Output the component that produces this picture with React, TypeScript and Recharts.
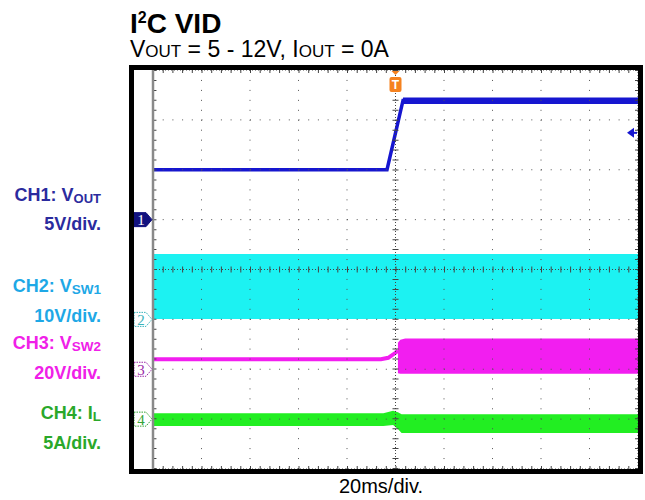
import React from 'react';
import { ComposedChart, Line, Area, XAxis, YAxis, ReferenceLine, ReferenceDot } from 'recharts';

// ---- axes (time in ms, vertical in divisions) ----
const timeDivs = [-100, -80, -60, -40, -20, 0, 20, 40, 60, 80, 100];
const vertDivs = [-4, -3, -2, -1, 0, 1, 2, 3, 4];

// ---- channel setup: offset (div) and scale (units/div) ----
const ch1Offset = 1;
const ch1Scale = 5;
const ch2Offset = -1;
const ch2Scale = 10;
const ch3Offset = -2;
const ch3Scale = 20;
const ch4Offset = -3;
const ch4Scale = 5;

// ---- CH1: VOUT (V) ----
const ch1Time = [-100, -3.5, 3.1, 100];
const ch1Volts = [5.0, 5.0, 11.95, 11.95];
const ch1NoiseTime = [3.1, 100];
const ch1NoiseLo = [11.6, 11.6];
const ch1NoiseHi = [12.25, 12.25];
const ch1TriggerLevel = 8.7;

// ---- CH2: VSW1 (V) switching band ----
const ch2Time = [-100, 100];
const ch2Lo = [0.1, 0.1];
const ch2Hi = [13.1, 13.1];

// ---- CH3: VSW2 (V) ----
const ch3LineTime = [-100, -6, -3, 0, 1];
const ch3LineVolts = [4.0, 4.0, 4.6, 6.6, 7.5];
const ch3BandTime = [1, 2, 4, 100];
const ch3BandLo = [-1.6, -1.8, -1.8, -1.8];
const ch3BandHi = [10.6, 11.8, 12.3, 12.3];

// ---- CH4: IL (A) ----
const ch4Time = [-100, -5, -1, 1, 2.5, 100];
const ch4Lo = [-0.7, -0.7, -0.6, -1.0, -1.4, -1.4];
const ch4Hi = [0.6, 0.6, 0.85, 0.7, 0.5, 0.5];

const toDiv = (v: number, off: number, sc: number) => off + v / sc;

const ch1Data = ch1Time.map((t, i) => ({ t, y: toDiv(ch1Volts[i], ch1Offset, ch1Scale) }));
const ch1Noise = ch1NoiseTime.map((t, i) => ({
  t,
  r: [toDiv(ch1NoiseLo[i], ch1Offset, ch1Scale), toDiv(ch1NoiseHi[i], ch1Offset, ch1Scale)],
}));
const ch2Data = ch2Time.map((t, i) => ({
  t,
  r: [toDiv(ch2Lo[i], ch2Offset, ch2Scale), toDiv(ch2Hi[i], ch2Offset, ch2Scale)],
}));
const ch3Line = ch3LineTime.map((t, i) => ({ t, y: toDiv(ch3LineVolts[i], ch3Offset, ch3Scale) }));
const ch3Band = ch3BandTime.map((t, i) => ({
  t,
  r: [toDiv(ch3BandLo[i], ch3Offset, ch3Scale), toDiv(ch3BandHi[i], ch3Offset, ch3Scale)],
}));
const ch4Data = ch4Time.map((t, i) => ({
  t,
  r: [toDiv(ch4Lo[i], ch4Offset, ch4Scale), toDiv(ch4Hi[i], ch4Offset, ch4Scale)],
}));

const C1 = '#1616D0';
const C2 = '#1CF2F2';
const C3 = '#F21EF0';
const C4 = '#22EE22';

const FONT = '"Liberation Sans", Arial, sans-serif';

const makeMarker = (label: string, color: string, filled: boolean) => (props: any) => {
  const { cx, cy } = props;
  const tip = cx - 1;
  const pts = `${tip - 18},${cy - 7} ${tip - 6},${cy - 7} ${tip},${cy} ${tip - 6},${cy + 7} ${tip - 18},${cy + 7}`;
  return (
    <g>
      <polygon
        points={pts}
        fill={filled ? '#12127E' : '#ffffff'}
        stroke={filled ? '#12127E' : color}
        strokeWidth={1}
        strokeDasharray={filled ? undefined : '1.5 1'}
      />
      <text
        x={tip - 11}
        y={cy + 5.5}
        textAnchor="middle"
        fontFamily={'"Liberation Serif", serif'}
        fontSize={15}
        fill={filled ? '#ffffff' : color}
      >
        {label}
      </text>
    </g>
  );
};

const TriggerMarker = (props: any) => {
  const { cx, cy } = props;
  return (
    <g>
      <polygon points={`${cx - 4},${cy + 1} ${cx + 4},${cy + 1} ${cx},${cy + 5}`} fill="#F5821F" />
      <rect x={cx - 6} y={cy + 7} width={12} height={15} rx={2} fill="#F5821F" />
      <text x={cx} y={cy + 19} textAnchor="middle" fontFamily={FONT} fontWeight="bold" fontSize={12} fill="#ffffff">
        T
      </text>
    </g>
  );
};

const LevelArrow = (props: any) => {
  const { cx, cy } = props;
  return (
    <g>
      <polygon points={`${cx - 11},${cy} ${cx - 4},${cy - 5} ${cx - 4},${cy + 5}`} fill={C1} />
      <line x1={cx - 5} y1={cy} x2={cx - 1} y2={cy} stroke={C1} strokeWidth={2} />
    </g>
  );
};

export default function App() {
  const innerX = timeDivs.filter((t) => t !== 0 && Math.abs(t) !== 100);
  const innerY = vertDivs.filter((v) => v !== 0 && Math.abs(v) !== 4);
  return (
    <div style={{ position: 'absolute', left: 0, top: 0, width: 645, height: 500, background: '#fff' }}>
      <ComposedChart
        width={645}
        height={500}
        margin={{ top: 70, right: 7, bottom: 31, left: 153 }}
      >
        <XAxis type="number" dataKey="t" domain={[-100, 100]} ticks={timeDivs} hide allowDataOverflow />
        <YAxis type="number" domain={[-4, 4]} ticks={vertDivs} hide allowDataOverflow />

        <Area data={ch2Data} dataKey="r" type="linear" stroke="none" fill={C2} fillOpacity={1} isAnimationActive={false} />
        <Area data={ch3Band} dataKey="r" type="linear" stroke="none" fill={C3} fillOpacity={1} isAnimationActive={false} />
        <Line data={ch3Line} dataKey="y" type="linear" stroke={C3} strokeWidth={4} dot={false} isAnimationActive={false} />
        <Area data={ch4Data} dataKey="r" type="linear" stroke="none" fill={C4} fillOpacity={1} isAnimationActive={false} />
        <Area data={ch1Noise} dataKey="r" type="linear" stroke="none" fill={C1} fillOpacity={1} isAnimationActive={false} />
        <Line data={ch1Data} dataKey="y" type="linear" stroke={C1} strokeWidth={3.5} dot={false} isAnimationActive={false} />

        {innerX.map((t) => (
          <ReferenceLine key={'vx' + t} x={t} stroke="#555" strokeWidth={1} strokeDasharray="1 8.95" />
        ))}
        {innerY.map((v) => (
          <ReferenceLine key={'hy' + v} y={v} stroke="#555" strokeWidth={1} strokeDasharray="1 8.7" />
        ))}
        <ReferenceLine x={0} stroke="#444" strokeWidth={1} strokeDasharray="1 2" />
        <ReferenceLine x={0} stroke="#444" strokeWidth={6} strokeDasharray="1 8.95" />
        <ReferenceLine y={0} stroke="#444" strokeWidth={1} strokeDasharray="1 2" />
        <ReferenceLine y={0} stroke="#444" strokeWidth={6} strokeDasharray="1 8.7" />

        <ReferenceLine y={4} stroke="#444" strokeWidth={1} strokeDasharray="1 2" />
        <ReferenceLine y={4} stroke="#444" strokeWidth={6} strokeDasharray="1 8.7" />
        <ReferenceLine y={-4} stroke="#444" strokeWidth={1} strokeDasharray="1 2" />
        <ReferenceLine y={-4} stroke="#444" strokeWidth={6} strokeDasharray="1 8.7" />
        <ReferenceLine x={100} stroke="#444" strokeWidth={1} strokeDasharray="1 2" />
        <ReferenceLine x={100} stroke="#444" strokeWidth={6} strokeDasharray="1 8.95" />
        <ReferenceLine x={-99.2} stroke="#444" strokeWidth={3} strokeDasharray="1 8.95" />
        <ReferenceLine x={-100} stroke="#8a8a8a" strokeWidth={2.5} />

        <ReferenceDot x={-100} y={ch1Offset} shape={makeMarker('1', '#12127E', true)} ifOverflow="visible" />
        <ReferenceDot x={-100} y={ch2Offset} shape={makeMarker('2', '#3AB3BA', false)} ifOverflow="visible" />
        <ReferenceDot x={-100} y={ch3Offset} shape={makeMarker('3', '#9A2AA8', false)} ifOverflow="visible" />
        <ReferenceDot x={-100} y={ch4Offset} shape={makeMarker('4', '#36A436', false)} ifOverflow="visible" />
        <ReferenceDot x={0} y={4} shape={TriggerMarker} ifOverflow="visible" />
        <ReferenceDot
          x={100}
          y={toDiv(ch1TriggerLevel, ch1Offset, ch1Scale)}
          shape={LevelArrow}
          ifOverflow="visible"
        />
      </ComposedChart>

      <svg
        width={645}
        height={500}
        style={{ position: 'absolute', left: 0, top: 0, pointerEvents: 'none' }}
      >
        <rect x={131.5} y={67.5} width={509} height={404} fill="none" stroke="#000" strokeWidth={5} />

        <text x={130} y={33} fontFamily={FONT} fontWeight="bold" fontSize={28} fill="#000">
          I<tspan fontSize={16} dy={-10}>2</tspan>
          <tspan dy={10}>C VID</tspan>
        </text>
        <text x={130} y={57} fontFamily={FONT} fontSize={23} fill="#000">
          V<tspan fontSize={17}>OUT</tspan> = 5 - 12V, I<tspan fontSize={17}>OUT</tspan> = 0A
        </text>

        <g fontFamily={FONT} fontWeight="bold" fontSize={18} textAnchor="end">
          <text x={101} y={201} fill="#2B2B9E">
            CH1: V<tspan fontSize={13} dy={1.5}>OUT</tspan>
          </text>
          <text x={101} y={230} fill="#2B2B9E">5V/div.</text>
          <text x={101} y={292} fill="#1EA8E6">
            CH2: V<tspan fontSize={13.5} dy={1.5}>SW1</tspan>
          </text>
          <text x={101} y={322} fill="#1EA8E6">10V/div.</text>
          <text x={101} y={349} fill="#F020E8">
            CH3: V<tspan fontSize={13.5} dy={1.5}>SW2</tspan>
          </text>
          <text x={101} y={379} fill="#F020E8">20V/div.</text>
          <text x={101} y={419} fill="#2AA82A">
            CH4: I<tspan fontSize={13.5} dy={1.5}>L</tspan>
          </text>
          <text x={101} y={449} fill="#2AA82A">5A/div.</text>
        </g>

        <text x={381} y={493} fontFamily={FONT} fontSize={20} textAnchor="middle" fill="#000">
          20ms/div.
        </text>
      </svg>
    </div>
  );
}
